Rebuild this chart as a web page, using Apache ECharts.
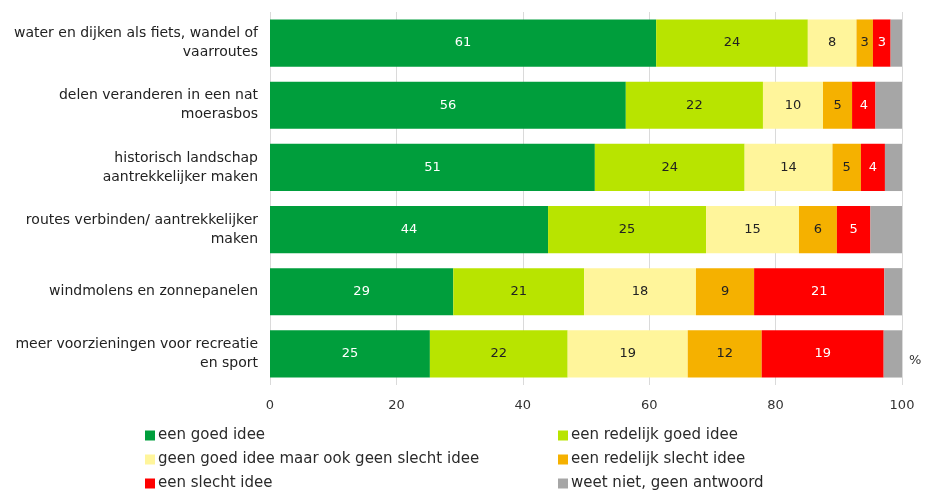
<!DOCTYPE html>
<html><head><meta charset="utf-8">
<script src="https://cdn.jsdelivr.net/npm/echarts@6/dist/echarts.min.js"></script>
<style>html,body{margin:0;padding:0;background:#fff}#c{width:926px;height:491px}</style>
</head><body><div id="c"></div>
<script>
const categories = [
  'water en dijken als fiets, wandel of\nvaarroutes',
  'delen veranderen in een nat\nmoerasbos',
  'historisch landschap\naantrekkelijker maken',
  'routes verbinden/ aantrekkelijker\nmaken',
  'windmolens en zonnepanelen',
  'meer voorzieningen voor recreatie\nen sport'
];
const seriesNames = [
  'een goed idee',
  'een redelijk goed idee',
  'geen goed idee maar ook geen slecht idee',
  'een redelijk slecht idee',
  'een slecht idee',
  'weet niet, geen antwoord'
];
const goed = [61.1, 56.3, 51.4, 44.0, 29.0, 25.3];
const redelijkGoed = [24.0, 21.7, 23.7, 25.0, 20.7, 21.8];
const neutraal = [7.7, 9.5, 13.9, 14.7, 17.7, 19.0];
const redelijkSlecht = [2.6, 4.6, 4.5, 6.0, 9.2, 11.7];
const slecht = [2.8, 3.7, 3.8, 5.3, 20.6, 19.3];
const weetNiet = [1.8, 4.2, 2.7, 5.0, 2.8, 2.9];
const xTicks = [0, 20, 40, 60, 80, 100];

const values = [goed, redelijkGoed, neutraal, redelijkSlecht, slecht, weetNiet];
const colors = ['#009E3C', '#B8E400', '#FFF59B', '#F5B100', '#FF0000', '#A6A6A6'];
const labelColors = ['#ffffff', '#222', '#222', '#222', '#ffffff', null];
const font = "'DejaVu Sans', sans-serif";

const legendCommon = {
  orient: 'vertical', top: 423, height: 80,
  itemWidth: 10, itemHeight: 10, itemGap: 9, icon: 'rect',
  textStyle: { fontSize: 15, color: '#2a2a2a', fontFamily: font, padding: [0, 0, 0, -2] }
};

const chart = echarts.init(document.getElementById('c'));
chart.setOption({
  animation: false,
  textStyle: { fontFamily: font },
  grid: { left: 270, right: 24, top: 12, bottom: 106, containLabel: false },
  xAxis: {
    type: 'value', min: 0, max: 100, interval: 20,
    axisLine: { show: false }, axisTick: { show: false },
    splitLine: { show: true, lineStyle: { color: '#DADADA', width: 1 } },
    axisLabel: { color: '#333', fontSize: 13, margin: 14, fontFamily: font,
      formatter: v => xTicks.includes(v) ? String(v) : '' }
  },
  yAxis: {
    type: 'category', data: categories, inverse: true,
    axisLine: { show: false }, axisTick: { show: false },
    axisLabel: { color: '#222', fontSize: 14, lineHeight: 19, margin: 12, align: 'right', fontFamily: font }
  },
  legend: [
    Object.assign({ data: [seriesNames[0], seriesNames[2], seriesNames[4]], left: 140 }, legendCommon),
    Object.assign({ data: [seriesNames[1], seriesNames[3], seriesNames[5]], left: 553 }, legendCommon)
  ],
  graphic: [{ type: 'text', left: 909, top: 354, style: { text: '%', fontSize: 13, fill: '#333', fontFamily: font } }],
  series: seriesNames.map((name, i) => ({
    name, type: 'bar', stack: 'total', data: values[i], barCategoryGap: '24%',
    itemStyle: { color: colors[i] },
    label: {
      show: labelColors[i] !== null, position: 'inside', color: labelColors[i] || '#222',
      fontSize: 13, fontFamily: font,
      formatter: p => String(Math.round(p.value))
    }
  }))
});
</script></body></html>
